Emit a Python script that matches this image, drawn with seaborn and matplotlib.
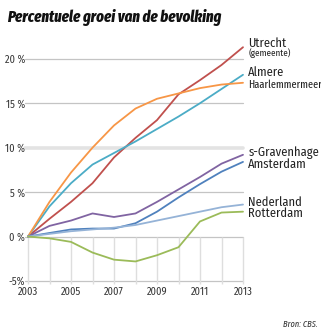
import numpy as np
import pandas as pd
import matplotlib
matplotlib.use("Agg")
import matplotlib.pyplot as plt
import seaborn as sns

years = [2003, 2004, 2005, 2006, 2007, 2008, 2009, 2010, 2011, 2012, 2013]
utrecht = [0, 2.0, 3.9, 6.0, 8.9, 11.1, 13.1, 16.0, 17.6, 19.3, 21.3]
almere = [0, 3.4, 6.0, 8.1, 9.4, 10.7, 12.1, 13.5, 15.0, 16.6, 18.2]
haarlemmermeer = [0, 3.9, 7.2, 10.0, 12.5, 14.4, 15.5, 16.1, 16.7, 17.1, 17.3]
den_haag = [0, 1.2, 1.8, 2.6, 2.2, 2.6, 3.9, 5.3, 6.7, 8.2, 9.2]
amsterdam = [0, 0.4, 0.8, 0.9, 0.9, 1.5, 2.8, 4.4, 5.9, 7.3, 8.4]
nederland = [0, 0.3, 0.6, 0.8, 1.0, 1.3, 1.8, 2.3, 2.8, 3.3, 3.6]
rotterdam = [0, -0.2, -0.6, -1.8, -2.6, -2.8, -2.1, -1.2, 1.7, 2.7, 2.8]

series = {
    "Utrecht": utrecht,
    "Almere": almere,
    "Haarlemmermeer": haarlemmermeer,
    "s-Gravenhage": den_haag,
    "Amsterdam": amsterdam,
    "Nederland": nederland,
    "Rotterdam": rotterdam,
}
colors = {
    "Utrecht": "#c0504d",
    "Almere": "#4bacc6",
    "Haarlemmermeer": "#f79646",
    "s-Gravenhage": "#8064a2",
    "Amsterdam": "#4f81bd",
    "Nederland": "#95b3d7",
    "Rotterdam": "#9bbb59",
}
label_y = {
    "Utrecht": 21.75, "Almere": 18.5, "Haarlemmermeer": 17.05,
    "s-Gravenhage": 9.45, "Amsterdam": 8.1, "Nederland": 3.9, "Rotterdam": 2.65,
}
yticks = [-5, 0, 5, 10, 15, 20]
ytick_labels = ["-5%", "0 %", "5 %", "10 %", "15 %", "20 %"]
xticks = [2003, 2005, 2007, 2009, 2011, 2013]

rows = []
for name, vals in series.items():
    for yr, v in zip(years, vals):
        rows.append({"year": yr, "value": v, "series": name})
df = pd.DataFrame(rows)

sns.set_theme(style="white")
COND = ["Fira Sans Condensed", "DejaVu Sans"]
XCOND = ["Fira Sans Extra Condensed", "Fira Sans Condensed", "DejaVu Sans"]
plt.rcParams["font.family"] = COND

fig = plt.figure(figsize=(3.21, 3.30), dpi=100)
W, H = 321, 330
y0, y1 = 281, 41
ax = fig.add_axes([28 / W, (H - y0) / H, (243 - 28) / W, (y0 - y1) / H])
ax.set_xlim(2003, 2013)
ax.set_ylim(-5, 22)

# gridlines
for t in yticks:
    if t == 10:
        ax.plot([2002.85, 2013], [t, t], color="#e3e3e3", lw=2.6, clip_on=False, zorder=0)
    else:
        ax.plot([2002.85, 2013], [t, t], color="#c4c4c4", lw=0.9, clip_on=False, zorder=0)
ax.vlines(years, -5.3, 0, colors="#dedede", lw=1.0, zorder=0, clip_on=False)

sns.lineplot(data=df, x="year", y="value", hue="series", palette=colors,
             hue_order=list(series.keys()), lw=1.3, legend=False, ax=ax)
for l in ax.lines:
    l.set_clip_on(False)

for s in ax.spines.values():
    s.set_visible(False)
ax.set_xlabel("")
ax.set_ylabel("")
ax.set_xticks(xticks)
ax.set_xticklabels([str(x) for x in xticks], fontsize=7.5, color="#333333")
ax.set_yticks(yticks)
ax.set_yticklabels(ytick_labels, fontsize=7.5, color="#333333")
ax.tick_params(axis="both", length=0, pad=2)
ax.tick_params(axis="x", pad=4)

for name, yv in label_y.items():
    if name == "Haarlemmermeer":
        ax.text(2013.25, yv, name, fontsize=8, family=XCOND, color="#222222",
                va="center", ha="left", clip_on=False)
    else:
        ax.text(2013.25, yv, name, fontsize=9, color="#222222", va="center", ha="left",
                clip_on=False)
ax.text(2013.25, 20.6, "(gemeente)", fontsize=6.5, color="#222222", va="center",
        ha="left", clip_on=False)

fig.text(7 / W, 1 - 18 / H, "Percentuele groei van de bevolking", fontsize=11.5,
         fontweight=800, fontstyle="italic", family=XCOND, color="#111111",
         va="center", ha="left")
fig.text(318 / W, 1 - 324 / H, "Bron: CBS.", fontsize=6.5, fontstyle="italic",
         family=XCOND, color="#333333", va="center", ha="right")

fig.savefig("out.png", dpi=100)
